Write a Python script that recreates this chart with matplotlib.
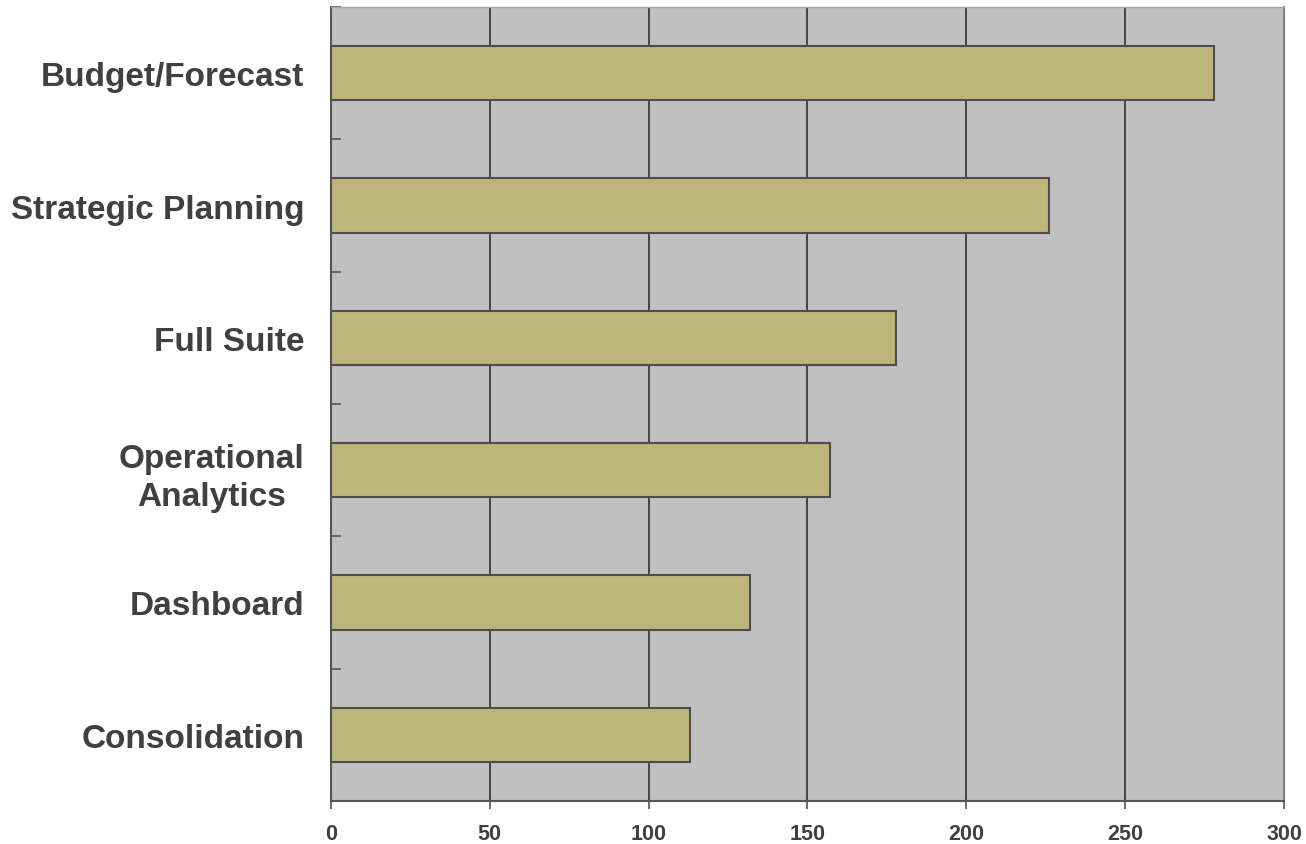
import numpy as np
import matplotlib.pyplot as plt
from matplotlib.ticker import FixedLocator

categories = ["Budget/Forecast", "Strategic Planning", "Full Suite",
              "Operational\nAnalytics", "Dashboard", "Consolidation"]
values = [278, 226, 178, 157, 132, 113]
x_ticks = [0, 50, 100, 150, 200, 250, 300]

plt.rcParams['font.family'] = ['Liberation Sans', 'DejaVu Sans']
text_color = "#404040"

fig = plt.figure(figsize=(13.06, 8.45), dpi=100)
ax = fig.add_axes([0.2534, 0.0509, 0.7298, 0.9396])
ax.set_facecolor("#C0C0C0")

pos = np.arange(len(categories))
ax.barh(pos, values, height=0.41, color="#BDB57A", edgecolor="#4D4D4D",
        linewidth=1.5, zorder=3)

ax.set_xlim(0, 300)
ax.set_ylim(len(categories) - 0.5, -0.5)

# vertical gridlines behind the bars
ax.set_xticks(x_ticks)
ax.set_xticklabels([str(t) for t in x_ticks], fontsize=15.5, fontweight="bold",
                   color=text_color)
ax.xaxis.grid(True, color="#3A3A3A", linewidth=1.3, zorder=0)
ax.tick_params(axis="x", direction="out", length=6, width=1.2, color="#555555",
               pad=9.5)

# category labels without ticks; small inward ticks at boundaries
ax.set_yticks(pos)
ax.set_yticklabels(categories, fontsize=24, fontweight="bold", color=text_color,
                   multialignment="center", linespacing=1.3)
ax.tick_params(axis="y", which="major", length=0, pad=19)
ax.yaxis.set_minor_locator(FixedLocator(np.arange(-0.5, len(categories), 1.0)))
ax.tick_params(axis="y", which="minor", direction="in", length=7, width=1.2,
               color="#555555")

for side in ["left", "bottom"]:
    ax.spines[side].set_color("#555555")
    ax.spines[side].set_linewidth(1.5)
ax.spines["right"].set_color("#808080")
ax.spines["right"].set_linewidth(1.5)
ax.spines["top"].set_color("#A8A8A8")
ax.spines["top"].set_linewidth(1.0)

fig.savefig("out.png", dpi=100, facecolor="white")
